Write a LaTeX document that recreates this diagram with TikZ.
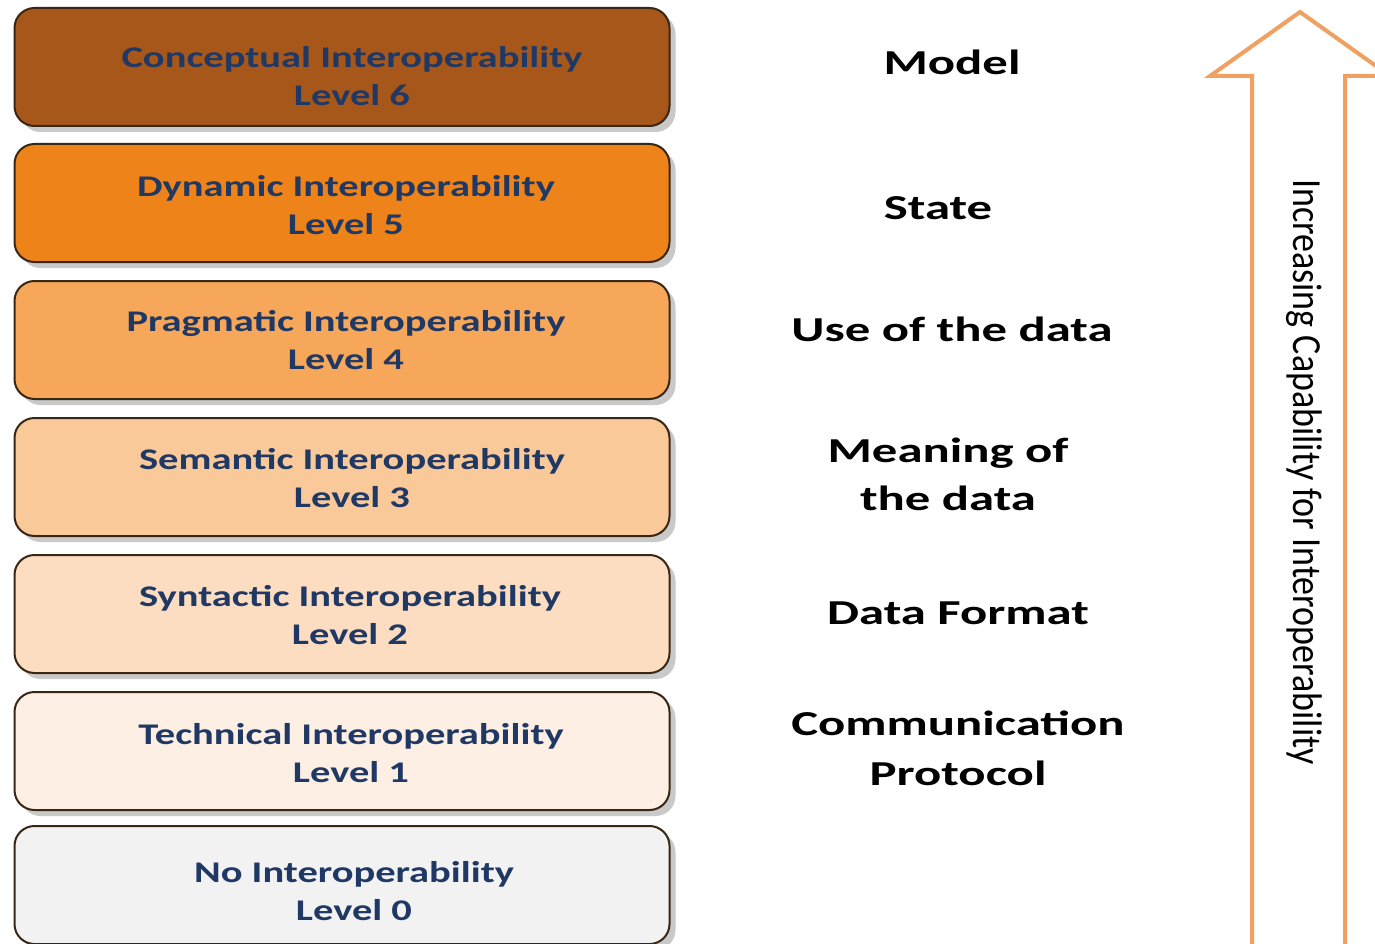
\documentclass[tikz,border=0pt]{standalone}
\usepackage{fontspec}
\setmainfont{Carlito}
\usetikzlibrary{shadows}
\definecolor{lsix}{HTML}{A8571A}
\definecolor{lfive}{HTML}{EE8419}
\definecolor{lfour}{HTML}{F6A75A}
\definecolor{lthree}{HTML}{FAC99A}
\definecolor{ltwo}{HTML}{FCDDC2}
\definecolor{lone}{HTML}{FDEFE3}
\definecolor{lzero}{HTML}{F2F2F2}
\definecolor{navy}{HTML}{1F3864}
\definecolor{boxline}{HTML}{3A2614}
\definecolor{arrowc}{HTML}{F0A060}
\newcommand{\boxtxt}[2]{\scalebox{1.35}[1]{#1}\\\scalebox{1.35}[1]{#2}}
\newcommand{\lbl}[1]{\scalebox{1.45}[1]{#1}}
\begin{document}
\begin{tikzpicture}[x=1pt,y=-1pt,
  levelbox/.style={draw=boxline, line width=2pt, rounded corners=20pt,
    minimum width=655pt, minimum height=118pt, inner sep=0pt,
    drop shadow={shadow xshift=6pt, shadow yshift=-6pt, opacity=0.35, fill=black!60}},
  boxtext/.style={text=navy, align=center, inner sep=0pt, font=\fontsize{30}{38}\selectfont\bfseries},
  rlabel/.style={text=black, align=center, inner sep=0pt, font=\fontsize{35}{48}\selectfont\bfseries}]
\useasboundingbox (0,0) rectangle (1375,944);
\fill[white] (0,0) rectangle (1375,944);
\begin{scope}
\clip (0,0) rectangle (1375,944);
% arrow
\draw[arrowc, line width=4pt, fill=white, line join=miter]
  (1252,960) -- (1252,76) -- (1210,76) -- (1300,12) -- (1390,76) -- (1345,76) -- (1345,960);
\node[rotate=-90, inner sep=0pt] (arrtext) at (1304,472)
  {\scalebox{1}[1.15]{\fontsize{36}{40}\selectfont Increasing Capability for Interoperability}};
% boxes
\node[levelbox, fill=lsix] (b6) at (342,67) {};
\node[levelbox, fill=lfive] (b5) at (342,203) {};
\node[levelbox, fill=lfour] (b4) at (342,340) {};
\node[levelbox, fill=lthree] (b3) at (342,477) {};
\node[levelbox, fill=ltwo] (b2) at (342,614) {};
\node[levelbox, fill=lone] (b1) at (342,751) {};
\node[levelbox, fill=lzero] (b0) at (342,885) {};
\end{scope}
\node[boxtext] (t6) at (352,76) {\boxtxt{Conceptual Interoperability}{Level 6}};
\node[boxtext] (t5) at (346,205) {\boxtxt{Dynamic Interoperability}{Level 5}};
\node[boxtext] (t4) at (346,340) {\boxtxt{Pragmatic Interoperability}{Level 4}};
\node[boxtext] (t3) at (352,478) {\boxtxt{Semantic Interoperability}{Level 3}};
\node[boxtext] (t2) at (350,615) {\boxtxt{Syntactic Interoperability}{Level 2}};
\node[boxtext] (t1) at (351,753) {\boxtxt{Technical Interoperability}{Level 1}};
\node[boxtext] (t0) at (354,891) {\boxtxt{No Interoperability}{Level 0}};
% right labels
\node[rlabel] (m6) at (952,62) {\lbl{Model}};
\node[rlabel] (m5) at (938,208) {\lbl{State}};
\node[rlabel] (m4) at (952,329) {\lbl{Use of the data}};
\node[rlabel] (m3) at (948,474) {\lbl{Meaning of}\\\lbl{the data}};
\node[rlabel] (m2) at (958,613) {\lbl{Data Format}};
\node[rlabel] (m1) at (958,748) {\lbl{Communication}\\[2pt]\lbl{Protocol}};
\end{tikzpicture}
\end{document}
